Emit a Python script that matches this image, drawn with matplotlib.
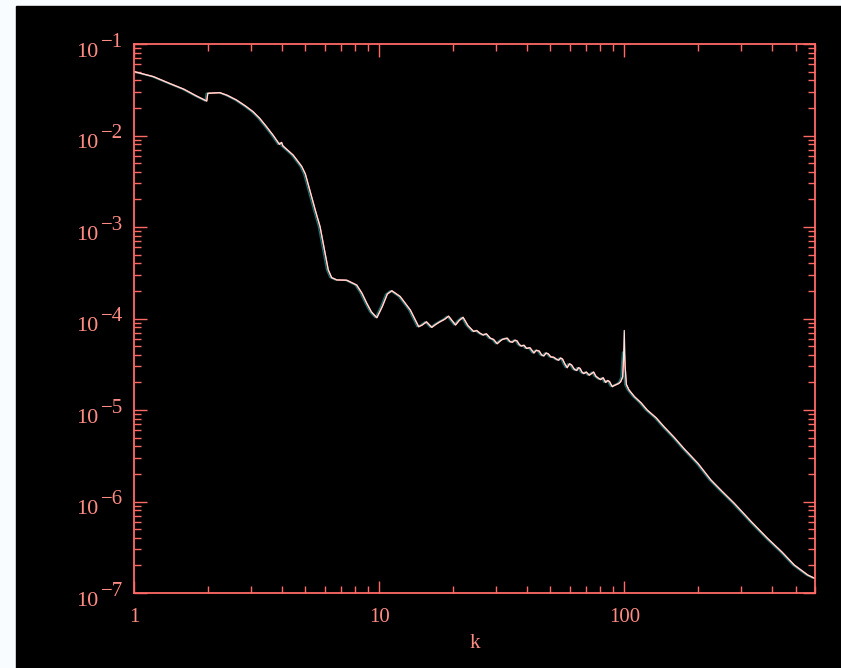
import matplotlib.pyplot as plt
import matplotlib.patheffects as pe
from matplotlib.transforms import offset_copy
from matplotlib.patches import Rectangle

# power spectrum
k = [1.0, 1.2, 1.4, 1.6, 1.8, 1.98, 2.0, 2.24, 2.4, 2.62, 2.85, 3.06, 3.25,
     3.47, 3.7, 3.92, 4.0, 4.05, 4.46, 4.83, 5.0, 5.22, 5.5, 5.74, 6.02, 6.2,
     6.4, 6.72, 7.38, 8.1, 8.5, 8.9, 9.3, 9.79, 10.3, 10.8, 11.27, 12.18,
     13.4, 14.5, 15.0, 15.6, 16.4, 17.0, 17.7, 18.5, 19.2, 20.5, 21.2, 22.0,
     23.0, 24.3, 25.0, 25.8, 26.6, 27.4, 28.4, 29.3, 30.3, 31.0, 31.8, 32.5,
     33.3, 34.2, 35.0, 35.8, 36.5, 37.3, 38.0, 39.0, 40.0, 41.2, 42.8, 43.8,
     45.0, 46.0, 47.0, 48.0, 49.0, 50.2, 51.6, 52.8, 54.0, 55.0, 56.0, 57.2,
     58.5, 59.8, 61.0, 62.5, 64.0, 65.0, 66.0, 67.2, 68.4, 70.0, 72.0, 73.5,
     75.0, 76.5, 78.0, 80.1, 82.0, 84.0, 85.5, 87.0, 88.3, 89.4, 91.0, 93.0,
     95.0, 96.7, 98.5, 99.3, 100.0, 100.8, 102.0, 104.5, 110.0, 117.0, 124.0,
     135.0, 145.0, 160.0, 175.0, 200.0, 225.6, 250.0, 281.0, 330.0, 384.0,
     440.0, 494.0, 561.0, 597.0]
P = [5.0e-2, 4.4e-2, 3.7e-2, 3.2e-2, 2.7e-2, 2.38e-2, 2.89e-2, 2.94e-2,
     2.75e-2, 2.44e-2, 2.1e-2, 1.82e-2, 1.55e-2, 1.25e-2, 1.0e-2, 8.0e-3,
     8.4e-3, 7.7e-3, 6.1e-3, 4.6e-3, 3.8e-3, 2.5e-3, 1.5e-3, 1.01e-3, 5.2e-4,
     3.4e-4, 2.8e-4, 2.64e-4, 2.62e-4, 2.32e-4, 1.9e-4, 1.47e-4, 1.18e-4,
     1.02e-4, 1.35e-4, 1.85e-4, 2.01e-4, 1.74e-4, 1.24e-4, 8.13e-5, 8.5e-5,
     9.2e-5, 8.0e-5, 8.6e-5, 9.2e-5, 9.8e-5, 1.06e-4, 8.5e-5, 9.5e-5, 1.03e-4,
     8.4e-5, 7.2e-5, 7.4e-5, 6.9e-5, 6.6e-5, 6.8e-5, 6.1e-5, 5.9e-5, 5.3e-5,
     5.6e-5, 5.9e-5, 6.0e-5, 6.1e-5, 5.6e-5, 5.5e-5, 5.8e-5, 5.7e-5, 5.2e-5,
     5.0e-5, 5.1e-5, 4.7e-5, 4.8e-5, 4.2e-5, 4.5e-5, 4.4e-5, 4.0e-5, 3.9e-5,
     4.2e-5, 4.1e-5, 3.8e-5, 3.77e-5, 3.6e-5, 3.5e-5, 3.7e-5, 3.6e-5, 3.2e-5,
     2.9e-5, 3.2e-5, 3.1e-5, 2.8e-5, 2.7e-5, 2.9e-5, 2.85e-5, 2.6e-5, 2.5e-5,
     2.6e-5, 2.4e-5, 2.5e-5, 2.6e-5, 2.35e-5, 2.25e-5, 2.15e-5, 2.25e-5,
     2.0e-5, 2.1e-5, 2.05e-5, 1.9e-5, 1.8e-5, 1.85e-5, 1.9e-5, 1.95e-5,
     2.04e-5, 2.3e-5, 3.5e-5, 7.4e-5, 3.0e-5, 1.9e-5, 1.66e-5, 1.4e-5, 1.2e-5,
     1.0e-5, 8.2e-6, 6.6e-6, 5.0e-6, 3.8e-6, 2.6e-6, 1.72e-6, 1.3e-6, 9.55e-7,
     6.0e-7, 3.96e-7, 2.8e-7, 2.02e-7, 1.57e-7, 1.45e-7]
# second (red) curve only differs at the k=100 spike
P_red = list(P)
P_red[k.index(100.0)] = 4.3e-5

exponents = [-1, -2, -3, -4, -5, -6, -7]
xticks = [1, 10, 100]
xticklabels = ['1', '10', '100']

axis_col = '#ff6a66'
text_col = '#ff8c84'
line_col = '#ffe2dc'
serif = ['Liberation Serif', 'DejaVu Serif']

fig = plt.figure(figsize=(8.41, 6.68), dpi=100, facecolor='#f8fcff')
# black panel, leaving a light strip on the left and top
fig.patches.append(Rectangle((16 / 841, 0), 1, 1 - 6 / 668,
                             transform=fig.transFigure, color='black',
                             zorder=-10))

ax = fig.add_axes([134 / 841, 1 - 593 / 668, 681 / 841, 549 / 668])
ax.set_facecolor('black')

shadow = [pe.SimpleLineShadow(offset=(-1.2, 0), shadow_color='#20a0a0',
                              alpha=0.7), pe.Normal()]
ax.plot(k, P_red, color='#ff5a55', lw=1.0, path_effects=shadow)
ax.plot(k, P, color=line_col, lw=0.9)

ax.set_xscale('log')
ax.set_yscale('log')
ax.set_xlim(1, 600)
ax.set_ylim(1e-7, 1e-1)

for s in ax.spines.values():
    s.set_color(axis_col)
    s.set_linewidth(1.3)

ax.tick_params(which='both', direction='in', top=True, right=True,
               color=axis_col, width=1.0)
ax.tick_params(which='major', length=9)
ax.tick_params(which='minor', length=5)
ax.tick_params(axis='y', labelleft=False)

ax.set_xticks(xticks)
ax.set_xticklabels(xticklabels, family=serif, fontsize=15, color=text_col)
ax.tick_params(axis='x', pad=11)
ax.set_xlabel('k', family=serif, fontsize=15, color=text_col, labelpad=5)

# y labels drawn as "10" with a large raised exponent
ytr = ax.get_yaxis_transform()
for e in exponents:
    ax.text(-0.052, 10.0 ** e, '10', ha='right', va='center',
            family=serif, fontsize=16, color=text_col,
            transform=offset_copy(ytr, fig=fig, x=0, y=-8, units='dots'))
    ax.text(-0.049, 10.0 ** e, '\u2212' + str(-e), ha='left', va='center',
            family=serif, fontsize=15, color=text_col,
            transform=offset_copy(ytr, fig=fig, x=0, y=2, units='dots'))

plt.savefig('out.png', dpi=100, facecolor=fig.get_facecolor())
